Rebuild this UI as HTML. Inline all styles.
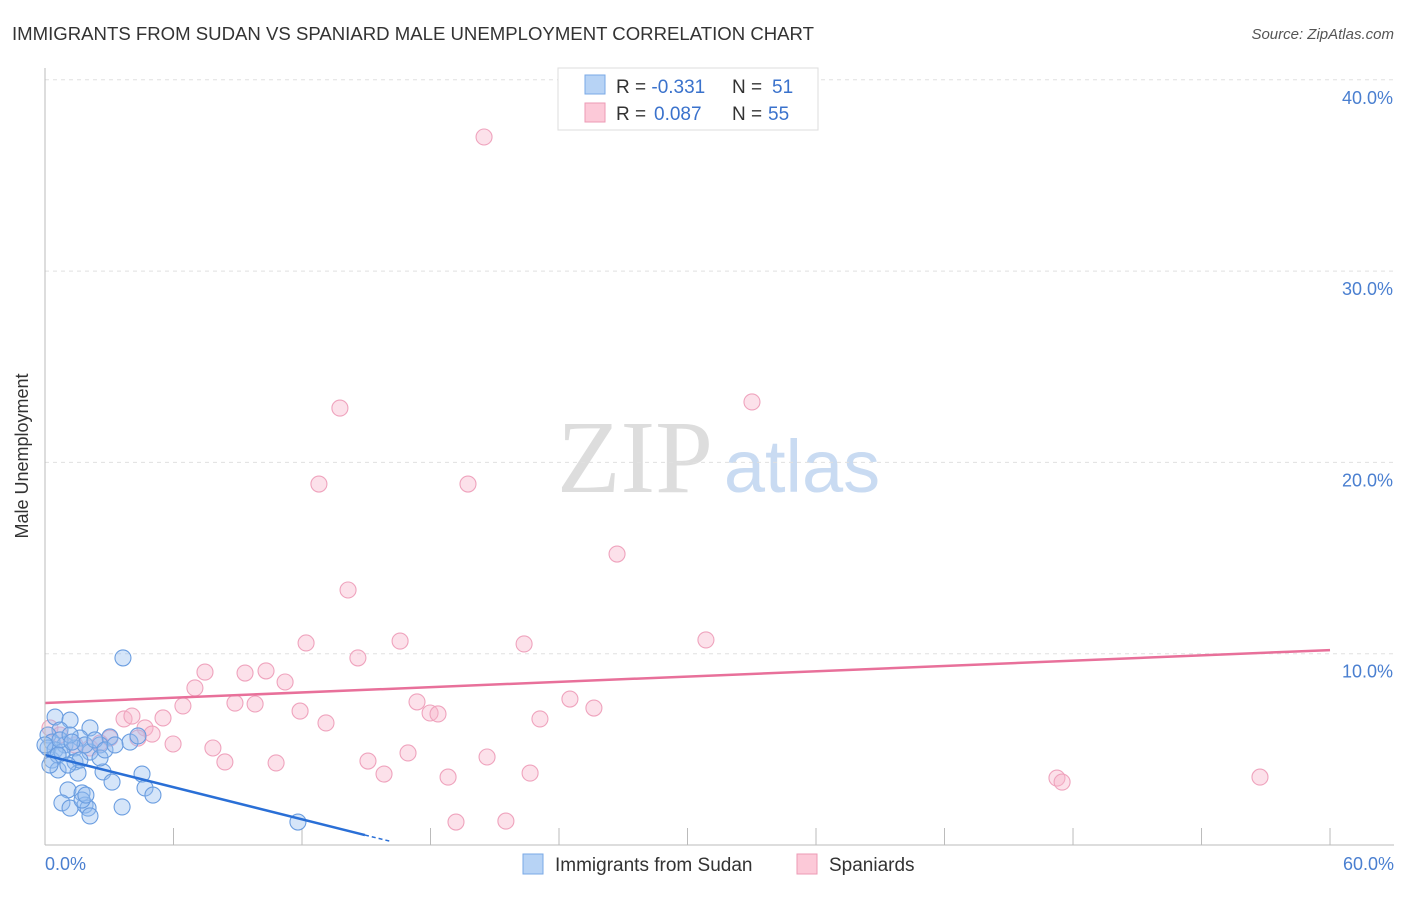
<!DOCTYPE html>
<html><head><meta charset="utf-8"><style>
body{margin:0;background:#fff;font-family:"Liberation Sans",sans-serif}
</style></head><body>
<svg width="1406" height="892">
<text x="12" y="40" font-size="18" fill="#333" textLength="802" lengthAdjust="spacingAndGlyphs">IMMIGRANTS FROM SUDAN VS SPANIARD MALE UNEMPLOYMENT CORRELATION CHART</text>
<text x="1394" y="39" font-size="15" fill="#555" text-anchor="end" font-style="italic">Source: ZipAtlas.com</text>
<text x="635" y="492" font-size="104" fill="#ddd" font-family="Liberation Serif" text-anchor="middle">ZIP</text>
<text x="802" y="492" font-size="74" fill="#c9dbf2" text-anchor="middle">atlas</text>
<g id="grid"></g><g id="pts"></g><g id="lines"></g>
<line x1="45" y1="68" x2="45" y2="845" stroke="#bbb"/>
<line x1="45" y1="845" x2="1394" y2="845" stroke="#bbb"/>
<text x="28" y="456" font-size="18" fill="#333" text-anchor="middle" transform="rotate(-90 28 456)">Male Unemployment</text>
<text x="45" y="870" font-size="18" fill="#4a7fd0">0.0%</text>
<text x="1394" y="870" font-size="18" fill="#4a7fd0" text-anchor="end">60.0%</text>
<g>
<rect x="558" y="68" width="260" height="62" fill="#fff" stroke="#ddd"/>
<rect x="585" y="75" width="20" height="19" fill="#b7d3f5" stroke="#7aa8e6"/>
<rect x="585" y="103" width="20" height="19" fill="#fcc9d8" stroke="#ec9ab5"/>
<text x="616" y="93" font-size="19" fill="#333">R = <tspan fill="#3a72cc">-0.331</tspan><tspan x="732">N = </tspan><tspan x="772" fill="#3a72cc">51</tspan></text>
<text x="616" y="120" font-size="19" fill="#333">R = <tspan x="654" fill="#3a72cc">0.087</tspan><tspan x="732">N = </tspan><tspan x="768" fill="#3a72cc">55</tspan></text>
</g>
<g>
<rect x="523" y="854" width="20" height="20" fill="#b7d3f5" stroke="#7aa8e6"/>
<text x="555" y="871" font-size="19" fill="#333">Immigrants from Sudan</text>
<rect x="797" y="854" width="20" height="20" fill="#fcc9d8" stroke="#ec9ab5"/>
<text x="829" y="871" font-size="19" fill="#333">Spaniards</text>
</g>
</svg>
<script>
const yTicks=[10,20,30,40];
const xTicks=[0,6,12,18,24,30,36,42,48,54,60];
const bluePx=[[123,658],[55,717],[70,720],[90,728],[60,730],[48,735],[80,738],[110,737],[52,742],[65,745],[75,748],[100,745],[130,742],[90,752],[138,736],[52,760],[75,762],[103,772],[58,770],[78,773],[142,774],[112,782],[145,788],[153,795],[68,790],[82,793],[85,805],[62,803],[70,808],[88,808],[122,807],[90,816],[298,822],[48,748],[55,750],[62,752],[45,745],[60,740],[85,745],[95,740],[70,735],[58,755],[80,760],[100,758],[68,765],[50,765],[82,800],[86,795],[105,750],[115,745],[72,742]];
const pinkPx=[[484,137],[340,408],[752,402],[319,484],[468,484],[617,554],[348,590],[306,643],[400,641],[524,644],[706,640],[358,658],[205,672],[245,673],[266,671],[285,682],[195,688],[183,706],[235,703],[255,704],[300,711],[326,723],[417,702],[430,713],[438,714],[570,699],[594,708],[540,719],[124,719],[132,716],[163,718],[145,728],[152,734],[138,738],[110,738],[173,744],[213,748],[225,762],[276,763],[368,761],[384,774],[408,753],[448,777],[487,757],[530,773],[1057,778],[1062,782],[1260,777],[456,822],[506,821],[50,728],[60,735],[75,745],[90,748],[100,743]];
const blueX=bluePx.map(p=>+((p[0]-45)/21.417).toFixed(2));
const blueY=bluePx.map(p=>+((845-p[1])/19.13).toFixed(2));
const pinkX=pinkPx.map(p=>+((p[0]-45)/21.417).toFixed(2));
const pinkY=pinkPx.map(p=>+((845-p[1])/19.13).toFixed(2));
const pinkTrend=[[0,7.42],[60,10.19]];
const blueTrend=[[0,4.7],[14.94,0.52]];
const blueDash=[[14.94,0.52],[16.1,0.2]];
const X=v=>45+v*21.417, Y=v=>845-v*19.13;
const NS='http://www.w3.org/2000/svg';
function mk(t,a,parent){const e=document.createElementNS(NS,t);for(const k in a)e.setAttribute(k,a[k]);document.getElementById(parent).appendChild(e);return e;}
yTicks.forEach(t=>{
 const l=mk('line',{x1:45,x2:1394,y1:Y(t),y2:Y(t),stroke:'#e0e0e0','stroke-dasharray':'4,4'},'grid');
 
 
 const tx=mk('text',{x:1393,y:Y(t)+24,'font-size':18,fill:'#4a7fd0','text-anchor':'end'},'grid');
 tx.textContent=t.toFixed(1)+'%';
 
 
});
xTicks.forEach(t=>{
 const l=mk('line',{x1:X(t),x2:X(t),y1:828,y2:845,stroke:'#bbb'},'grid');
 
 
});
pinkX.forEach((x,i)=>{
 const c=mk('circle',{cx:X(x),cy:Y(pinkY[i]),r:8,fill:'rgba(248,180,202,0.4)',stroke:'#efa3bd','stroke-width':1.1},'pts');
 
 
});
blueX.forEach((x,i)=>{
 const c=mk('circle',{cx:X(x),cy:Y(blueY[i]),r:8,fill:'rgba(150,190,240,0.4)',stroke:'#6a9de0','stroke-width':1.1},'pts');
 
 
});
const pl=mk('line',{x1:X(pinkTrend[0][0]),y1:Y(pinkTrend[0][1]),x2:X(pinkTrend[1][0]),y2:Y(pinkTrend[1][1]),stroke:'#e8709a','stroke-width':2.5},'lines');


const bl=mk('line',{x1:X(blueTrend[0][0]),y1:Y(blueTrend[0][1]),x2:X(blueTrend[1][0]),y2:Y(blueTrend[1][1]),stroke:'#2a6fd6','stroke-width':2.5},'lines');


const bd=mk('line',{x1:X(blueDash[0][0]),y1:Y(blueDash[0][1]),x2:X(blueDash[1][0]),y2:Y(blueDash[1][1]),stroke:'#2a6fd6','stroke-width':1.5,'stroke-dasharray':'4,3'},'lines');


</script>
</body></html>
